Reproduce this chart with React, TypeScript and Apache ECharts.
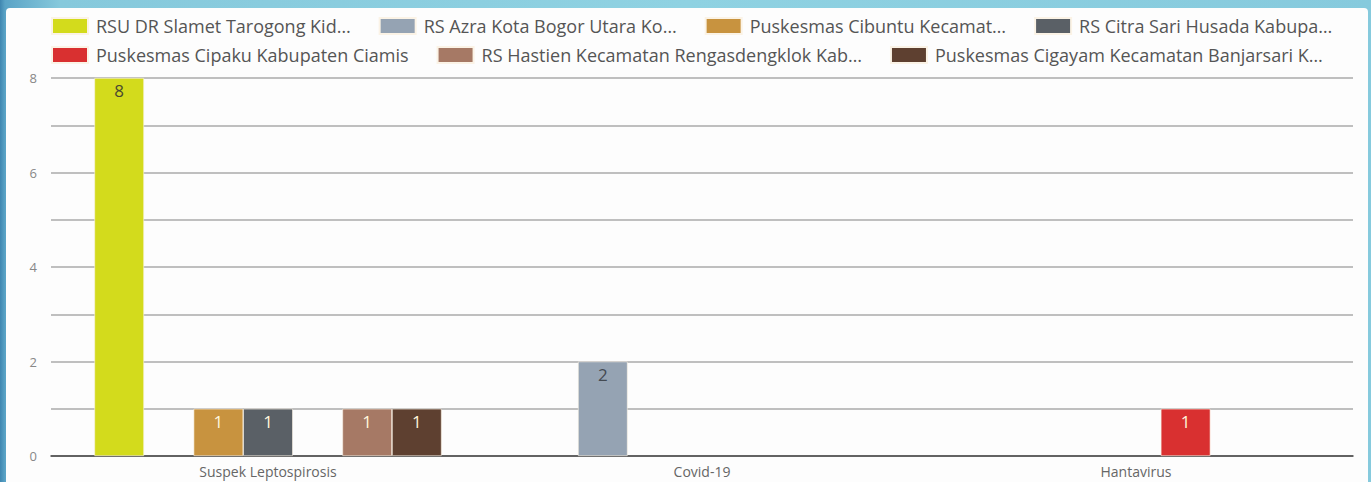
import React, { useEffect, useRef } from "react";
import * as echarts from "echarts";

const categories = ["Suspek Leptospirosis", "Covid-19", "Hantavirus"];

const seriesNames = [
  "RSU DR Slamet Tarogong Kid…",
  "RS Azra Kota Bogor Utara Ko…",
  "Puskesmas Cibuntu Kecamat…",
  "RS Citra Sari Husada Kabupa…",
  "Puskesmas Cipaku Kabupaten Ciamis",
  "RS Hastien Kecamatan Rengasdengklok Kab…",
  "Puskesmas Cigayam Kecamatan Banjarsari K…",
];

const rsuSlamet = [8, null, null];
const rsAzra = [null, 2, null];
const pkmCibuntu = [1, null, null];
const rsCitra = [1, null, null];
const pkmCipaku = [null, null, 1];
const rsHastien = [1, null, null];
const pkmCigayam = [1, null, null];

const seriesValues = [rsuSlamet, rsAzra, pkmCibuntu, rsCitra, pkmCipaku, rsHastien, pkmCigayam];

const colors = ["#d3db1c", "#95a3b3", "#c8933f", "#5a6066", "#d93030", "#a67965", "#5e4030"];
const labelColors = ["#4a4a30", "#444a52", "#fff6dc", "#fff6dc", "#fff6dc", "#fff6dc", "#fff6dc"];

const yTicks = [0, 2, 4, 6, 8];

const FONT = "'Open Sans', sans-serif";

export default function App() {
  const ref = useRef<HTMLDivElement>(null);

  useEffect(() => {
    if (!ref.current) return;
    const chart = echarts.init(ref.current, null, { renderer: "svg" });
    const legendCommon = {
      left: 51,
      padding: 0,
      itemWidth: 36,
      itemHeight: 16,
      itemGap: 28,
      icon: "rect",
      textStyle: { fontFamily: FONT, fontSize: 18, color: "#555", padding: [0, 0, 0, 3] },
    };
    chart.setOption({
      animation: false,
      color: colors,
      legend: [
        { ...legendCommon, top: 17, data: seriesNames.slice(0, 4) },
        { ...legendCommon, top: 46, data: seriesNames.slice(4) },
      ],
      grid: { left: 51, right: 18, top: 78, bottom: 26, containLabel: false },
      xAxis: {
        type: "category",
        data: categories,
        axisTick: { show: false },
        axisLine: { lineStyle: { color: "#444", width: 1.5 } },
        axisLabel: { fontFamily: FONT, fontSize: 14, color: "#666", margin: 8 },
      },
      yAxis: {
        type: "value",
        min: 0,
        max: 8,
        interval: 1,
        axisLine: { show: false },
        axisTick: { show: false },
        splitLine: { lineStyle: { color: "#aaa", width: 1.5 } },
        axisLabel: {
          fontFamily: FONT,
          fontSize: 13,
          color: "#888",
          margin: 14,
          formatter: (v: number) => (yTicks.includes(v) ? String(v) : ""),
        },
      },
      series: seriesNames.map((name, i) => ({
        name,
        type: "bar",
        data: seriesValues[i],
        barGap: "0%",
        barCategoryGap: "20%",
        itemStyle: { color: colors[i], borderColor: "#fbf3e6", borderWidth: 0.6 },
        label: {
          show: true,
          position: "insideTop",
          distance: 4,
          fontFamily: FONT,
          fontSize: 17,
          color: labelColors[i],
        },
      })),
    });
    return () => chart.dispose();
  }, []);

  return (
    <div
      style={{
        position: "fixed",
        left: 0,
        top: 0,
        width: 1371,
        height: 482,
        overflow: "hidden",
        background: "linear-gradient(90deg, #3f86b0 0px, #5aa3c6 5px, #86c9dc 60px, #8fd2e2 50%, #86cadd 100%)",
      }}
    >
      <div
        style={{
          position: "absolute",
          left: 6,
          top: 8,
          width: 1362,
          height: 480,
          background: "#fdfdfd",
          borderTopLeftRadius: 4,
          borderTopRightRadius: 4,
        }}
      />
      <div ref={ref} style={{ position: "absolute", left: 0, top: 0, width: 1371, height: 482 }} />
    </div>
  );
}
